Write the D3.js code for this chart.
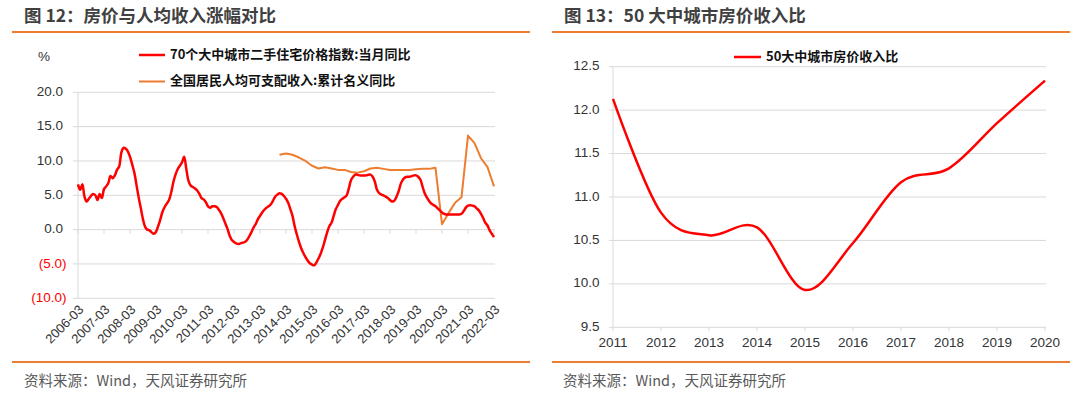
<!DOCTYPE html>
<html><head><meta charset="utf-8">
<script src="https://cdn.jsdelivr.net/npm/d3@7"></script>
<style>
html,body{margin:0;padding:0;background:#fff;}
svg{display:block;font-family:"Liberation Sans",Arial,"Noto Sans CJK SC",sans-serif;}
.cjk{font-family:"Noto Sans CJK SC","Liberation Sans",sans-serif;}
</style></head>
<body>
<script>
// ---------- DATA ----------
const leftYTicks = [20, 15, 10, 5, 0, -5, -10];
const leftXLabels = ["2006-03","2007-03","2008-03","2009-03","2010-03","2011-03","2012-03","2013-03","2014-03","2015-03","2016-03","2017-03","2018-03","2019-03","2020-03","2021-03","2022-03"];
const priceStart = "2006-03";
// 70个大中城市二手住宅价格指数:当月同比 (monthly, 2006-03 .. 2022-03)
const priceYoY = [
  6.6, 5.8, 6.6, 4.8, 4.1, 4.5, 4.9, 5.2, 5.0, 4.3, 5.2, 4.6,
  5.9, 6.3, 6.8, 7.8, 7.5, 7.9, 8.7, 9.2, 11.2, 11.9, 11.8, 11.4,
  10.6, 9.5, 8.3, 6.5, 4.7, 3.1, 1.5, 0.4, 0.0, -0.1, -0.4, -0.6,
  -0.3, 0.5, 1.5, 2.6, 3.3, 3.8, 4.3, 5.4, 6.9, 8.0, 8.8, 9.3,
  9.8, 10.6, 8.8, 7.1, 6.4, 6.2, 6.0, 5.7, 5.2, 4.6, 4.4, 4.0,
  3.4, 3.2, 3.4, 3.4, 3.3, 2.9, 2.4, 1.7, 0.9, 0.1, -0.9, -1.5,
  -1.8, -2.0, -2.1, -2.0, -1.9, -1.8, -1.5, -1.0, -0.4, 0.3, 0.8, 1.5,
  2.0, 2.5, 2.9, 3.2, 3.4, 3.7, 4.2, 4.8, 5.1, 5.3, 5.2, 4.9,
  4.5, 3.9, 3.0, 2.0, 0.5, -0.7, -1.8, -2.7, -3.4, -4.0, -4.5, -4.9,
  -5.1, -5.2, -4.8, -4.2, -3.5, -2.6, -1.5, -0.4, 0.5, 1.0, 2.0, 3.0,
  3.6, 4.2, 4.5, 4.7, 5.0, 6.0, 7.2, 7.7, 8.0, 8.0, 7.9, 7.9,
  7.9, 7.9, 8.0, 8.0, 7.7, 7.0, 5.8, 5.3, 5.1, 5.0, 4.8, 4.6,
  4.3, 4.1, 4.2, 4.8, 5.6, 6.7, 7.3, 7.6, 7.7, 7.7, 7.8, 7.9,
  7.9, 7.7, 7.3, 6.3, 5.3, 4.7, 4.2, 3.8, 3.6, 3.4, 3.1, 2.8,
  2.5, 2.3, 2.2, 2.2, 2.2, 2.2, 2.2, 2.2, 2.2, 2.3, 2.7, 3.2,
  3.5, 3.55, 3.5, 3.4, 3.1, 2.8, 2.3, 1.7, 1.0, 0.6, -0.1, -0.6, -1.1
];
// 全国居民人均可支配收入:累计名义同比 (quarterly)
const incomeDates = ["2013-12","2014-03","2014-06","2014-09","2014-12","2015-03","2015-06","2015-09","2015-12",
  "2016-03","2016-06","2016-09","2016-12","2017-03","2017-06","2017-09","2017-12","2018-03","2018-06","2018-09","2018-12",
  "2019-03","2019-06","2019-09","2019-12","2020-03","2020-06","2020-09","2020-12","2021-03","2021-06","2021-09","2021-12","2022-03"];
const incomeYoY = [10.9, 11.1, 10.9, 10.5, 10.0, 9.3, 8.9, 9.1, 8.9,
  8.7, 8.7, 8.4, 8.3, 8.5, 8.9, 9.0, 8.85, 8.7, 8.7, 8.7, 8.7,
  8.8, 8.85, 8.85, 9.0, 0.8, 2.4, 3.9, 4.7, 13.7, 12.6, 10.4, 9.1, 6.3];

const rightYears = [2011, 2012, 2013, 2014, 2015, 2016, 2017, 2018, 2019, 2020];
const rightRatio = [12.13, 10.82, 10.56, 10.65, 9.93, 10.47, 11.17, 11.33, 11.85, 12.34];
const rightYTicks = [12.5, 12.0, 11.5, 11.0, 10.5, 10.0, 9.5];

// ---------- DRAW ----------
const W = 1080, H = 394;
const ORANGE = "#ED7D31", GRID = "#d9d9d9", TXT = "#333";
const svg = d3.select("body").append("svg").attr("width", W).attr("height", H);
svg.append("rect").attr("width", W).attr("height", H).attr("fill", "#fff");

function monthIndex(s) {
  const [y, m] = s.split("-").map(Number);
  const [y0, m0] = priceStart.split("-").map(Number);
  return (y - y0) * 12 + (m - m0);
}

// Headers / footers
function frame(x0, x1, titleX, title, sourceX) {
  svg.append("text").attr("class", "cjk").attr("x", titleX).attr("y", 17)
    .attr("dominant-baseline", "middle").attr("font-size", 17.5).attr("font-weight", "bold")
    .attr("fill", "#404040").text(title);
  svg.append("line").attr("x1", x0).attr("x2", x1).attr("y1", 32).attr("y2", 32)
    .attr("stroke", ORANGE).attr("stroke-width", 2);
  svg.append("line").attr("x1", x0).attr("x2", x1).attr("y1", 362).attr("y2", 362)
    .attr("stroke", ORANGE).attr("stroke-width", 2);
  svg.append("text").attr("class", "cjk").attr("x", sourceX).attr("y", 382)
    .attr("dominant-baseline", "middle").attr("font-size", 14.5)
    .attr("fill", "#595959").text("资料来源：Wind，天风证券研究所");
}
frame(12, 530, 24, "图 12：房价与人均收入涨幅对比", 24);
frame(552, 1070, 564, "图 13：50 大中城市房价收入比", 563);

// ---------- LEFT CHART ----------
const lx = d3.scaleLinear().domain([0, priceYoY.length - 1]).range([78, 494]);
const ly = d3.scaleLinear().domain([-10, 20]).range([298.3, 92.3]);
const L = svg.append("g");
// gridlines with outer ticks
L.selectAll(".lg").data(leftYTicks).join("line")
  .attr("x1", 73).attr("x2", 495).attr("y1", d => ly(d)).attr("y2", d => ly(d))
  .attr("stroke", GRID).attr("stroke-width", 1);
L.append("line").attr("x1", 78).attr("x2", 78).attr("y1", ly(20)).attr("y2", ly(-10))
  .attr("stroke", GRID);
// y labels
L.selectAll(".lyl").data(leftYTicks).join("text")
  .attr("x", d => d < 0 ? 66.5 : 63).attr("y", d => ly(d))
  .attr("dominant-baseline", "middle").attr("text-anchor", "end")
  .attr("font-size", 13.5).attr("fill", d => d < 0 ? "#ff0000" : TXT)
  .text(d => d < 0 ? "(" + d3.format(".1f")(-d) + ")" : d3.format(".1f")(d));
L.append("text").attr("x", 44).attr("y", 57).attr("dominant-baseline", "middle")
  .attr("text-anchor", "middle").attr("font-size", 13.5).attr("fill", TXT).text("%");
// category ticks on zero line
L.selectAll(".lxt").data(leftXLabels).join("line")
  .attr("x1", d => lx(monthIndex(d))).attr("x2", d => lx(monthIndex(d)))
  .attr("y1", ly(0)).attr("y2", ly(0) + 4).attr("stroke", GRID);
// x labels rotated
L.selectAll(".lxl").data(leftXLabels).join("text")
  .attr("transform", d => `translate(${lx(monthIndex(d)) + 4},${308}) rotate(-45)`)
  .attr("text-anchor", "end").attr("dominant-baseline", "middle")
  .attr("font-size", 13).attr("fill", TXT).text(d => d);
// lines
L.append("path").datum(incomeYoY.map((v, i) => [monthIndex(incomeDates[i]), v]))
  .attr("fill", "none").attr("stroke", ORANGE).attr("stroke-width", 2)
  .attr("stroke-linejoin", "round")
  .attr("d", d3.line().x(d => lx(d[0])).y(d => ly(d[1])));
L.append("path").datum(priceYoY.map((v, i) => [i, v]))
  .attr("fill", "none").attr("stroke", "#ff0000").attr("stroke-width", 2.5)
  .attr("stroke-linejoin", "round")
  .attr("d", d3.line().x(d => lx(d[0])).y(d => ly(d[1])).curve(d3.curveCatmullRom));
// legend
const leftLegend = [
  {name: "70个大中城市二手住宅价格指数:当月同比", color: "#ff0000", w: 2.5},
  {name: "全国居民人均可支配收入:累计名义同比", color: ORANGE, w: 2}
];
leftLegend.forEach((d, i) => {
  const y = 55 + i * 26.5;
  L.append("line").attr("x1", 139).attr("x2", 165).attr("y1", y).attr("y2", y)
    .attr("stroke", d.color).attr("stroke-width", d.w);
  L.append("text").attr("class", "cjk").attr("x", 170).attr("y", y)
    .attr("dominant-baseline", "middle").attr("font-size", 13).attr("font-weight", "bold")
    .attr("fill", "#111").text(d.name);
});

// ---------- RIGHT CHART ----------
const rx = d3.scaleLinear().domain([2011, 2020]).range([613, 1045]);
const ry = d3.scaleLinear().domain([9.5, 12.5]).range([327.3, 66.7]);
const R = svg.append("g");
R.selectAll(".rg").data(rightYTicks).join("line")
  .attr("x1", 609).attr("x2", 1046).attr("y1", d => ry(d)).attr("y2", d => ry(d))
  .attr("stroke", GRID);
R.append("line").attr("x1", 613).attr("x2", 613).attr("y1", ry(12.5)).attr("y2", ry(9.5))
  .attr("stroke", GRID);
R.selectAll(".rxt").data(rightYears).join("line")
  .attr("x1", d => rx(d)).attr("x2", d => rx(d)).attr("y1", ry(9.5)).attr("y2", ry(9.5) + 4)
  .attr("stroke", GRID);
R.selectAll(".ryl").data(rightYTicks).join("text")
  .attr("x", 599.5).attr("y", d => ry(d)).attr("dominant-baseline", "middle")
  .attr("text-anchor", "end").attr("font-size", 13.5).attr("fill", TXT)
  .text(d => d3.format(".1f")(d));
R.selectAll(".rxl").data(rightYears).join("text")
  .attr("x", d => rx(d)).attr("y", 343).attr("dominant-baseline", "middle")
  .attr("text-anchor", "middle").attr("font-size", 13.5).attr("fill", TXT).text(d => d);
R.append("path").datum(rightYears.map((y, i) => [y, rightRatio[i]]))
  .attr("fill", "none").attr("stroke", "#ff0000").attr("stroke-width", 2.5)
  .attr("d", d3.line().x(d => rx(d[0])).y(d => ry(d[1])).curve(d3.curveCardinal.tension(0)));
R.append("line").attr("x1", 734).attr("x2", 761).attr("y1", 57).attr("y2", 57)
  .attr("stroke", "#ff0000").attr("stroke-width", 2.5);
R.append("text").attr("class", "cjk").attr("x", 766).attr("y", 57)
  .attr("dominant-baseline", "middle").attr("font-size", 13).attr("font-weight", "bold")
  .attr("fill", "#111").text("50大中城市房价收入比");
</script>
</body></html>
